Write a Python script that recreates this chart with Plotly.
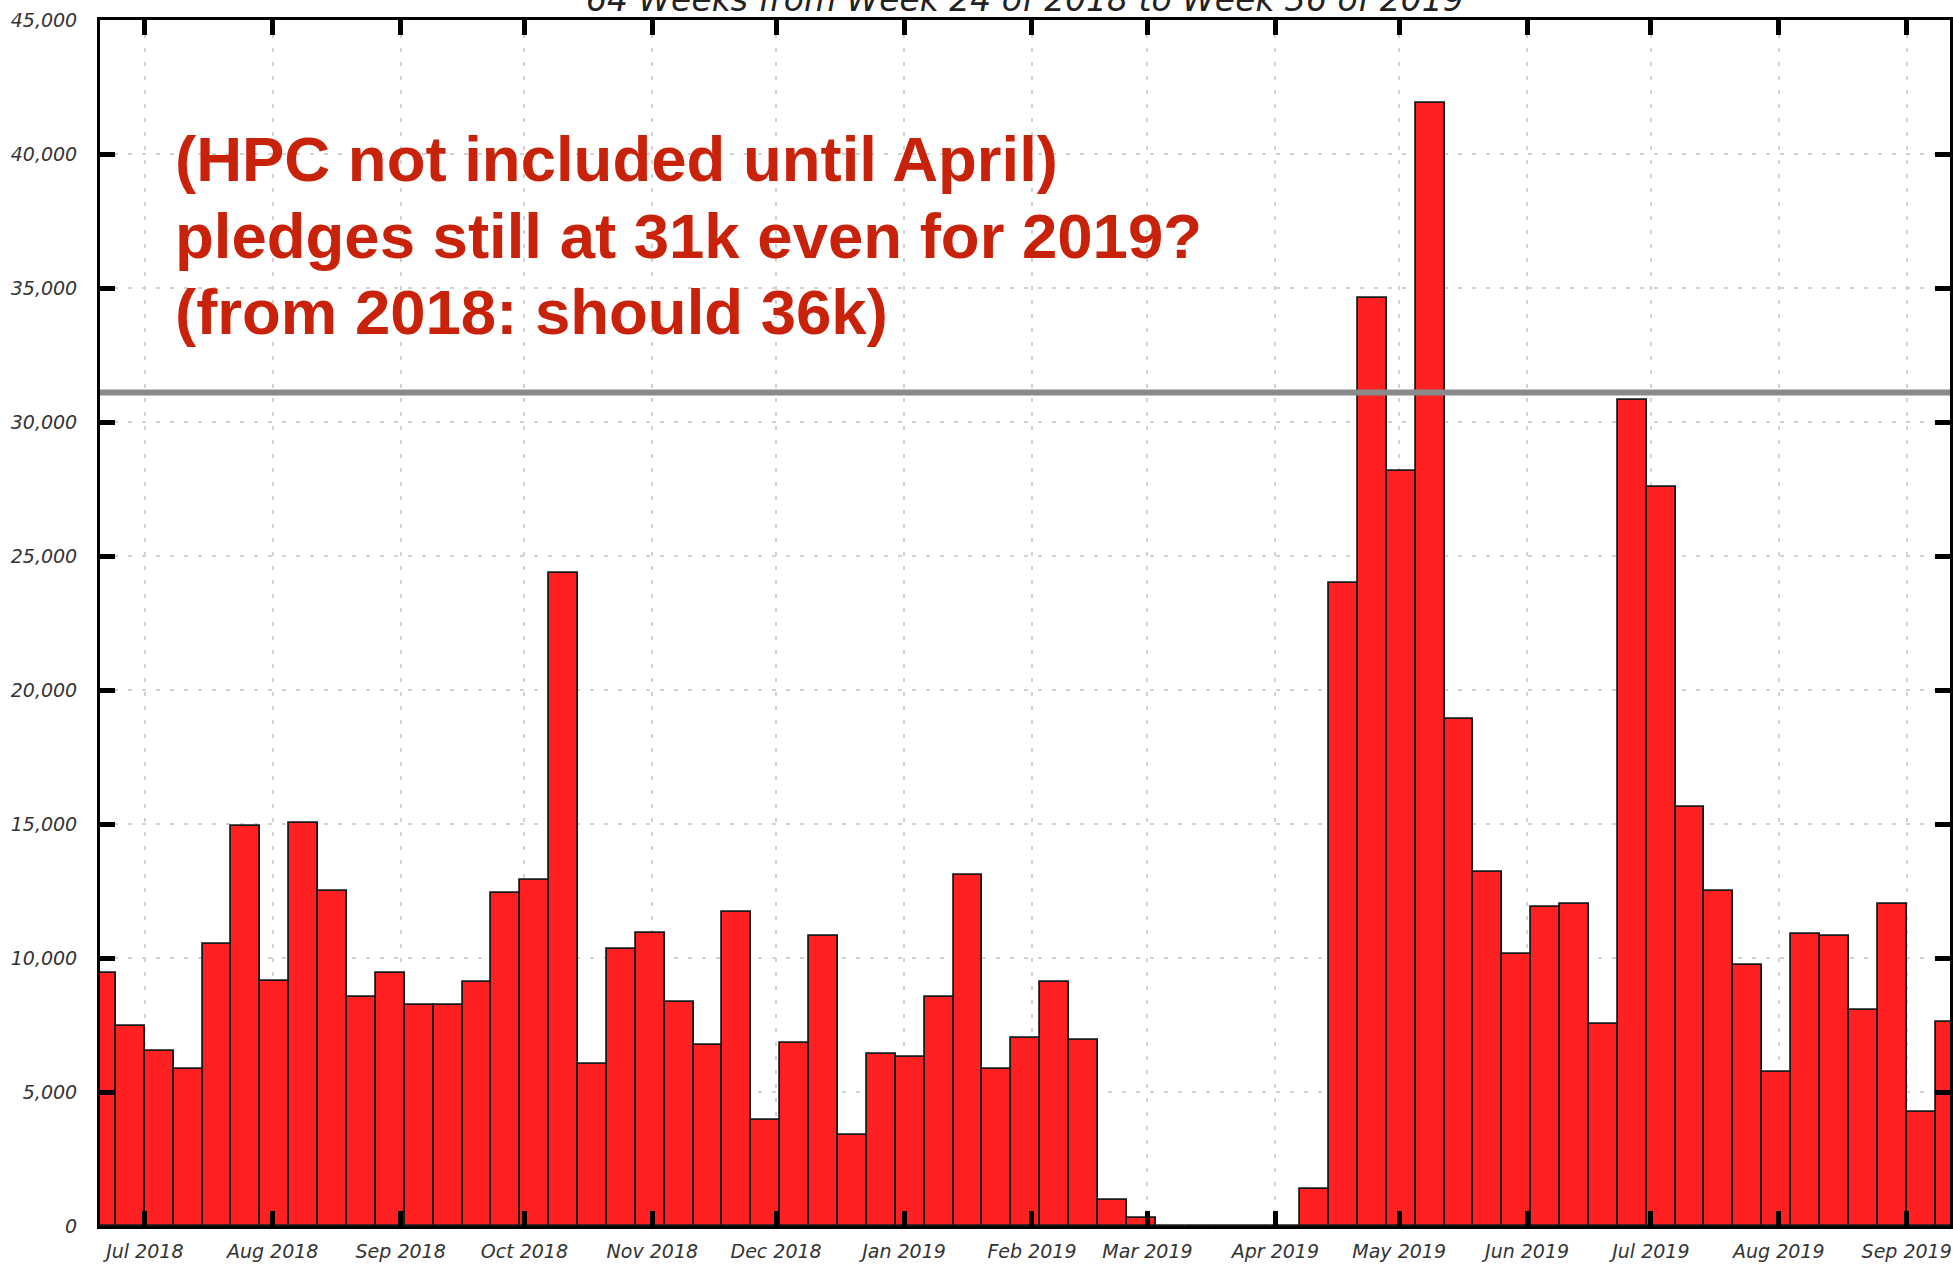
import pandas as pd
import plotly.graph_objects as go

# ---- data ----
WEEK_STARTS = pd.date_range("2018-06-17", periods=65, freq="7D")
VALUES = [9440, 7450, 6530, 5840, 10540, 14920, 9140, 15020, 12510, 8530,
          9440, 8230, 8230, 9120, 12410, 12920, 24360, 6040, 10320, 10920,
          8370, 6740, 11710, 3950, 6830, 10830, 3390, 6420, 6320, 8550,
          13110, 5860, 7020, 9120, 6930, 985, 287, 0, 0, 0,
          0, 0, 1370, 23990, 34610, 28180, 41890, 18920, 13200, 10140,
          11900, 12000, 7530, 30820, 27570, 15620, 12510, 9730, 5730, 10910,
          10810, 8050, 12010, 4240, 7600]
PLEDGE = 31100
TITLE = "64 Weeks from Week 24 of 2018 to Week 36 of 2019"
NOTE_LINES = ["(HPC not included until April)",
              "pledges still at 31k even for 2019?",
              "(from 2018: should 36k)"]
Y_TICKS = list(range(0, 45001, 5000))
Y_TICK_LABELS = [f"{v:,}" for v in Y_TICKS]
X_RANGE = ["2018-06-20 03:20", "2019-09-11 12:00"]

WEEK_MS = 7 * 24 * 3600 * 1000
centers = WEEK_STARTS + pd.Timedelta(hours=84)

fig = go.Figure()
fig.add_trace(go.Bar(
    x=centers, y=VALUES, width=[WEEK_MS] * len(VALUES),
    marker=dict(color="#ff2121", line=dict(color="#1a1a1a", width=1.8)),
    showlegend=False,
))

fig.add_shape(type="line", xref="paper", x0=0, x1=1, yref="y", y0=PLEDGE, y1=PLEDGE,
              line=dict(color="#8a8a8a", width=6), layer="above")

tickfont = dict(family="DejaVu Sans", size=19, color="#333333", style="italic")
axis_common = dict(
    showline=True, linecolor="black", linewidth=3, mirror="ticks",
    ticks="inside", ticklen=15, tickwidth=5, tickcolor="black",
    showgrid=True, gridcolor="#d2d2d2", gridwidth=1.5, griddash="4px,10px",
    tickfont=tickfont, layer="above traces", zeroline=False,
)

fig.update_layout(
    width=1953, height=1265,
    margin=dict(l=100, r=0, t=20, b=39),
    plot_bgcolor="white", paper_bgcolor="white",
    bargap=0,
    xaxis=dict(type="date", range=X_RANGE, tickmode="linear", tick0="2018-07-01",
               dtick="M1", tickformat="%b %Y", ticklabelstandoff=6, **axis_common),
    yaxis=dict(range=[0, 45000], tickmode="array", tickvals=Y_TICKS,
               ticktext=Y_TICK_LABELS, ticklabelstandoff=16, **axis_common),
)

fig.add_annotation(text=TITLE, xref="paper", yref="paper", x=0.5, y=1,
                   xanchor="center", yanchor="bottom", yshift=-1, showarrow=False,
                   font=dict(family="DejaVu Sans", size=33, color="#222222", style="italic"))

note_font = dict(family="Liberation Sans", size=63.5, color="#c8230a", weight="bold")
for line, ypos in zip(NOTE_LINES, [0.8847, 0.8209, 0.7579]):
    fig.add_annotation(text=line, xref="paper", yref="paper", x=0.0397, y=ypos,
                       xanchor="left", yanchor="middle", showarrow=False, font=note_font)

fig.write_html("out.html", config={"displayModeBar": False},
               post_script="document.body.style.margin='0';document.body.style.overflow='hidden';")
